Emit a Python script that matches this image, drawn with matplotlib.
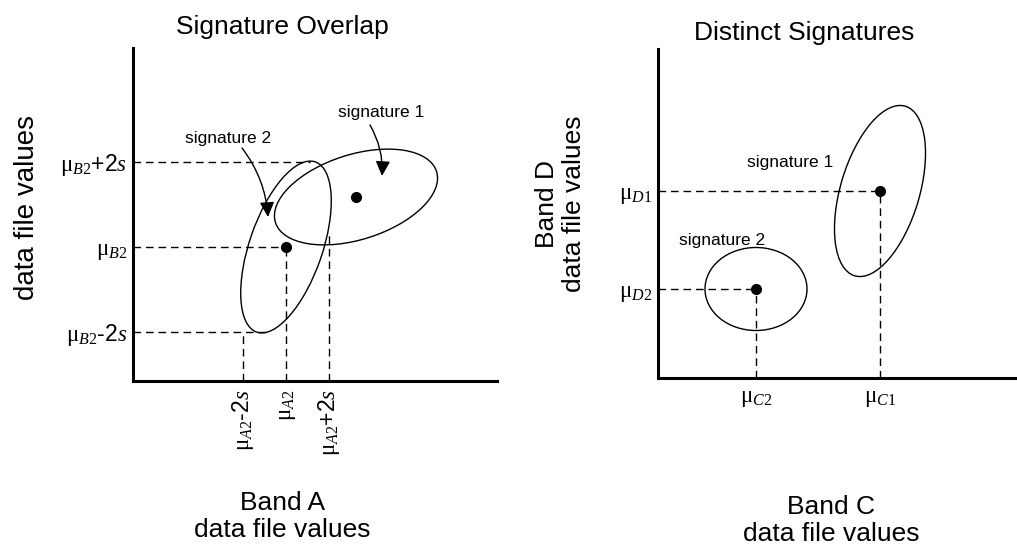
import matplotlib
matplotlib.use("Agg")
import matplotlib.pyplot as plt
from matplotlib.patches import Ellipse, FancyArrowPatch

plt.rcParams["font.family"] = ["Liberation Sans", "DejaVu Sans"]
plt.rcParams["mathtext.fontset"] = "custom"
plt.rcParams["mathtext.rm"] = "Liberation Serif"
plt.rcParams["mathtext.it"] = "Liberation Serif:italic"
plt.rcParams["mathtext.sf"] = "Liberation Sans"

# ---- left panel: overlapping signatures (band A vs band B) ----
mu_a2, two_s_a = 153, 43
mu_b2, two_s_b = 134, 85
sig1_ab = (223, 184)
# ellipse shapes: width, height, angle
ell_sig2_ab = (180, 73, 71)
ell_sig1_ab = (169, 85, 17.6)
# where the guide lines stop (on the ellipse / at the mean)
h_ends_ab = [134, mu_a2, 177]     # for -2s, mean, +2s
v_ends_ab = [49, mu_b2, 147]

# ---- right panel: distinct signatures (band C vs band D) ----
mu_c1, mu_d1 = 222, 187
mu_c2, mu_d2 = 98, 89
ell_sig1_cd = (177, 79, 73.4)
ell_sig2_cd = (102, 83, 0)

W, H = 1017, 546
fig = plt.figure(figsize=(W / 100, H / 100), dpi=100)
ax1 = fig.add_axes([133 / W, 165 / H, 364 / W, 333 / H])
ax2 = fig.add_axes([658 / W, 168 / H, 359 / W, 329 / H])
ax1.set_xlim(0, 364)
ax1.set_ylim(0, 333)
ax2.set_xlim(0, 359)
ax2.set_ylim(0, 329)

for ax in (ax1, ax2):
    for side in ("top", "right"):
        ax.spines[side].set_visible(False)
    for side in ("left", "bottom"):
        ax.spines[side].set_linewidth(2.2)
    ax.tick_params(length=0, labelsize=16.5)

dash = dict(color="black", lw=1, linestyle=(0, (5.5, 3.5)))
dot = dict(marker="o", color="black", markersize=7, linestyle="none")
ell_kw = dict(fill=False, edgecolor="black", lw=1)

# left panel
ys = [mu_b2 - two_s_b, mu_b2, mu_b2 + two_s_b]
xs = [mu_a2 - two_s_a, mu_a2, mu_a2 + two_s_a]
for y, xe in zip(ys, h_ends_ab):
    ax1.plot([0, xe], [y, y], **dash)
for x, ye in zip(xs, v_ends_ab):
    ax1.plot([x, x], [0, ye], **dash)

w, h, a = ell_sig2_ab
ax1.add_patch(Ellipse((mu_a2, mu_b2), w, h, angle=a, **ell_kw))
w, h, a = ell_sig1_ab
ax1.add_patch(Ellipse(sig1_ab, w, h, angle=a, **ell_kw))
ax1.plot([mu_a2, sig1_ab[0]], [mu_b2, sig1_ab[1]], **dot)

ax1.text(248, 268, "signature 1", ha="center", va="center", fontsize=12.5)
ax1.text(95, 242, "signature 2", ha="center", va="center", fontsize=12.5)
for start, end in [((237, 256), (249, 205)), ((109, 233), (135, 164))]:
    ax1.add_patch(FancyArrowPatch(start, end, connectionstyle="arc3,rad=-0.15",
                                  arrowstyle="-|>,head_length=0.45,head_width=0.22",
                                  mutation_scale=20, color="black", lw=1,
                                  shrinkA=0, shrinkB=0))

ax1.set_yticks(ys, [r"$\mathrm{\mu}_{\mathit{B2}}\mathsf{‐2}\mathit{s}$",
                    r"$\mathrm{\mu}_{\mathit{B2}}$",
                    r"$\mathrm{\mu}_{\mathit{B2}}\mathsf{{+}2}\mathit{s}$"])
ax1.set_xticks(xs, [r"$\mathrm{\mu}_{\mathit{A2}}\mathsf{‐2}\mathit{s}$",
                    r"$\mathrm{\mu}_{\mathit{A2}}$",
                    r"$\mathrm{\mu}_{\mathit{A2}}\mathsf{{+}2}\mathit{s}$"], rotation=90)
ax1.tick_params(axis="y", pad=4)
ax1.tick_params(axis="x", pad=6)

ax1.set_title("Signature Overlap", fontsize=19, x=0.41, pad=10)
ax1.set_xlabel("Band A\ndata file values", fontsize=19, linespacing=1.15)
ax1.xaxis.set_label_coords(0.41, -0.33)
ax1.set_ylabel("data file values", fontsize=20)
ax1.yaxis.set_label_coords(-0.255, 0.52)

# right panel
ax2.plot([0, mu_c1], [mu_d1, mu_d1], **dash)
ax2.plot([mu_c1, mu_c1], [0, mu_d1], **dash)
ax2.plot([0, mu_c2], [mu_d2, mu_d2], **dash)
ax2.plot([mu_c2, mu_c2], [0, mu_d2], **dash)

w, h, a = ell_sig1_cd
ax2.add_patch(Ellipse((mu_c1, mu_d1), w, h, angle=a, **ell_kw))
w, h, a = ell_sig2_cd
ax2.add_patch(Ellipse((mu_c2, mu_d2), w, h, angle=a, **ell_kw))
ax2.plot([mu_c1, mu_c2], [mu_d1, mu_d2], **dot)

ax2.text(132, 216, "signature 1", ha="center", va="center", fontsize=12.5)
ax2.text(64, 138, "signature 2", ha="center", va="center", fontsize=12.5)

ax2.set_xticks([mu_c2, mu_c1], [r"$\mathrm{\mu}_{\mathit{C2}}$", r"$\mathrm{\mu}_{\mathit{C1}}$"])
ax2.set_yticks([mu_d2, mu_d1], [r"$\mathrm{\mu}_{\mathit{D2}}$", r"$\mathrm{\mu}_{\mathit{D1}}$"])
ax2.tick_params(axis="y", pad=4)
ax2.tick_params(axis="x", pad=6)

ax2.set_title("Distinct Signatures", fontsize=19, x=0.407, pad=6.5)
ax2.set_xlabel("Band C\ndata file values", fontsize=19, linespacing=1.15)
ax2.xaxis.set_label_coords(0.482, -0.355)
ax2.set_ylabel("Band D\ndata file values", fontsize=19, linespacing=1.15)
ax2.yaxis.set_label_coords(-0.2, 0.53)

fig.savefig("out.png", dpi=100)
